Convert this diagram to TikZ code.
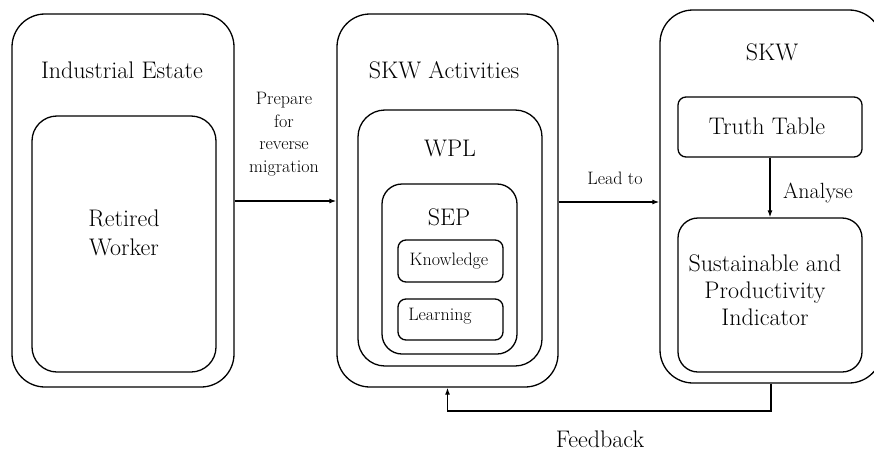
\documentclass[tikz,border=0pt]{standalone}
\usetikzlibrary{arrows.meta}
\begin{document}
\begin{tikzpicture}[x=1pt,y=-1pt,
  box/.style={draw,line width=1.3pt,inner sep=0pt},
  big/.style={font=\fontsize{24}{29}\selectfont,align=center,inner sep=0pt},
  mid/.style={font=\fontsize{22}{26}\selectfont,align=center,inner sep=0pt},
  small/.style={font=\fontsize{18}{22.5}\selectfont,align=center,inner sep=0pt},
  arr/.style={line width=1.2pt,-{Latex[length=7pt,width=5pt]}}]
\useasboundingbox (0,0) rectangle (874,452);
\clip (0,0) rectangle (874,452);
% column 1
\node[box,rounded corners=33pt,minimum width=222pt,minimum height=373pt] (ie) at (123,200.5) {};
\node[box,rounded corners=25pt,minimum width=184pt,minimum height=256pt] (rw) at (124,244) {};
\node[big] (ietxt) at (122,70) {Industrial Estate};
\node[big] (rwtxt) at (124,233) {Retired\\Worker};
% column 2
\node[box,rounded corners=33pt,minimum width=221pt,minimum height=373pt] (ska) at (447.5,200.5) {};
\node[box,rounded corners=27pt,minimum width=184pt,minimum height=256pt] (wpl) at (450,238) {};
\node[box,rounded corners=20pt,minimum width=135pt,minimum height=170pt] (sep) at (449.5,269) {};
\node[box,rounded corners=8pt,minimum width=105pt,minimum height=42pt] (kn) at (450.5,261) {};
\node[box,rounded corners=8pt,minimum width=105pt,minimum height=41pt] (le) at (450.5,319.5) {};
\node[big] (skatxt) at (444,70) {SKW Activities};
\node[big] (wpltxt) at (450,148) {WPL};
\node[big] (septxt) at (449,217) {SEP};
\node[small] (kntxt) at (449,261) {Knowledge};
\node[small] (letxt) at (440,316) {Learning};
% column 3
\node[box,rounded corners=33pt,minimum width=222pt,minimum height=373pt] (skw) at (771,196.5) {};
\node[box,rounded corners=8pt,minimum width=184pt,minimum height=60pt] (tt) at (770,127) {};
\node[box,rounded corners=20pt,minimum width=184pt,minimum height=154pt] (sp) at (770,295) {};
\node[big] (skwtxt) at (772,52) {SKW};
\node[big] (tttxt) at (767,126) {Truth Table};
\node[big,font=\fontsize{24}{27}\selectfont] (sptxt) at (765,290) {Sustainable and\\Productivity\\Indicator};
% connectors
\draw[arr] (ie.east |- 0,201) -- (ska.west |- 0,201);
\node[small] (prep) at (284,134) {Prepare\\for\\reverse\\migration};
\draw[arr] (ska.east |- 0,202) -- (skw.west |- 0,202);
\node[small] (lead) at (615,178) {Lead to};
\draw[arr] (tt.south) -- (sp.north);
\node[mid] (an) at (818,193) {Analyse};
\coordinate (fb1) at (771,411);
\coordinate (fb2) at (447.5,411);
\draw[arr] (skw.south) -- (fb1) -- (fb2) -- (ska.south);
\node[big] (fbtxt) at (600,439) {Feedback};
\end{tikzpicture}
\end{document}
